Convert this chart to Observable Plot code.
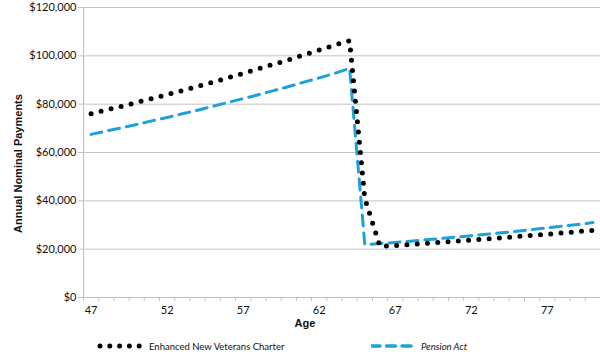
<!DOCTYPE html>
<html>
<head>
<meta charset="utf-8">
<script src="https://cdn.jsdelivr.net/npm/d3@7"></script>
<script src="https://cdn.jsdelivr.net/npm/@observablehq/plot@0.6"></script>
<style>
  body { margin: 0; background: #fff; }
  #wrap { position: relative; width: 600px; height: 360px; font-family: Lato, "Liberation Sans", sans-serif; }
  .leg { position: absolute; top: 339px; height: 14px; display: flex; align-items: center; font-size: 9.5px; color: #111; }
  .leg svg { margin-right: 6px; }
</style>
</head>
<body>
<div id="wrap"></div>
<script>
// Ages (x categories)
const ages = [47,48,49,50,51,52,53,54,55,56,57,58,59,60,61,62,63,64,65,66,67,68,69,70,71,72,73,74,75,76,77,78,79,80];
// Enhanced New Veterans Charter, annual nominal payments (thousands $)
const envc = [76.0,77.6,79.1,80.7,82.3,84.0,85.6,87.4,89.1,90.9,92.7,94.6,96.5,98.4,100.4,102.4,104.4,106.3,
              41.0,21.1,21.5,21.9,22.4,22.8,23.3,23.8,24.2,24.7,25.2,25.7,26.2,26.7,27.3,27.8];
// Pension Act, annual nominal payments (thousands $)
const pension = [67.5,68.9,70.2,71.6,73.1,74.5,76.0,77.5,79.1,80.7,82.3,83.9,85.6,87.3,89.1,90.9,92.7,94.8,
                 21.9,22.3,22.8,23.3,23.9,24.4,25.0,25.6,26.2,26.8,27.4,28.1,28.8,29.5,30.2,31.0];
const xTickLabels = [47,52,57,62,67,72,77];
const yTicks = [0,20000,40000,60000,80000,100000,120000];
const seriesNames = ["Enhanced New Veterans Charter", "Pension Act"];

const rowsE = ages.map((a, i) => ({age: a, value: envc[i] * 1000}));
const rowsP = ages.map((a, i) => ({age: a, value: pension[i] * 1000}));
const tickMarks = d3.range(ages[0] - 0.5, ages[ages.length - 1] + 1, 1);

const blue = "#1ea0dc";
const grid = "#c3c3c3";
const font = "Lato, 'Liberation Sans', sans-serif";

const chart = Plot.plot({
  width: 600,
  height: 335,
  marginLeft: 83,
  marginRight: 0,
  marginTop: 7,
  marginBottom: 38,
  style: {fontFamily: font, fontSize: "11px", color: "#111", background: "#fff"},
  x: {type: "linear", domain: [ages[0] - 0.5, ages[ages.length - 1] + 0.5], axis: null},
  y: {type: "linear", domain: [0, 120000], axis: null},
  marks: [
    Plot.gridY(yTicks, {stroke: grid, strokeOpacity: 1, strokeWidth: 1}),
    Plot.ruleX([ages[0] - 0.5], {stroke: grid, strokeWidth: 1.2}),
    Plot.ruleY([0], {stroke: grid, strokeWidth: 1.2}),
    Plot.axisX(tickMarks, {tickSize: 4, text: null, stroke: grid, strokeOpacity: 1, label: null}),
    Plot.axisX(xTickLabels, {tickSize: 0, tickPadding: 9, fontSize: 11, label: null, fill: "#111"}),
    Plot.axisY(yTicks, {tickSize: 5, tickPadding: 2, stroke: grid, strokeOpacity: 1, fontSize: 11, label: null,
      tickFormat: d => "$" + d3.format(",")(d), fill: "#111"}),
    Plot.lineY(rowsP, {x: "age", y: "value", stroke: blue, strokeWidth: 3, strokeDasharray: "11,7"}),
    Plot.lineY(rowsE, {x: "age", y: "value", stroke: "#000", strokeWidth: 5, strokeLinecap: "round", strokeDasharray: "0,10.3"}),
    Plot.text(["Age"], {frameAnchor: "bottom", dx: -37, dy: 29, fontWeight: "bold", fontSize: 11, fill: "#111", fontFamily: "'Liberation Sans', Arial, sans-serif"}),
    Plot.text(["Annual Nominal Payments"], {frameAnchor: "left", textAnchor: "middle", dx: -65, dy: 11, rotate: -90, fontWeight: "bold", fontSize: 11, fill: "#111", fontFamily: "'Liberation Sans', Arial, sans-serif"})
  ]
});

const wrap = document.getElementById("wrap");
wrap.appendChild(chart);

function legendItem(left, swatch, name, italic) {
  const d = document.createElement("div");
  d.className = "leg";
  d.style.left = left + "px";
  d.innerHTML = swatch + `<span style="font-style:${italic ? "italic" : "normal"}">${name}</span>`;
  wrap.appendChild(d);
}
legendItem(97, `<svg width="46" height="10"><line x1="3" y1="5" x2="43" y2="5" stroke="#000" stroke-width="5" stroke-linecap="round" stroke-dasharray="0,9.8"/></svg>`, seriesNames[0], false);
legendItem(371, `<svg width="44" height="10"><line x1="0" y1="5" x2="43" y2="5" stroke="${blue}" stroke-width="3.5" stroke-linecap="round" stroke-dasharray="9,6.5"/></svg>`, seriesNames[1], true);
</script>
</body>
</html>
